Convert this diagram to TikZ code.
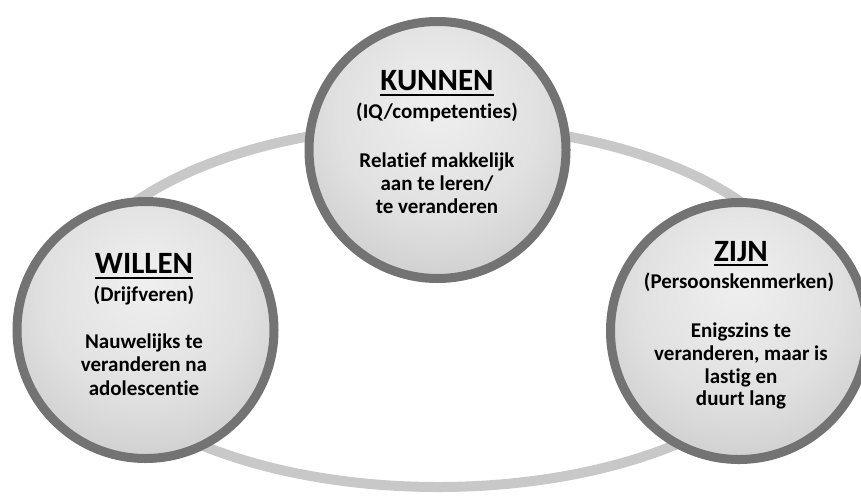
\documentclass[tikz,border=0pt]{standalone}
\usepackage{fontspec}
\setmainfont{Carlito}[Ligatures=NoCommon]
\definecolor{ringgray}{HTML}{C8C8C8}
\definecolor{bordergray}{HTML}{737373}
\pgfdeclareradialshading{ballshade}{\pgfpoint{0bp}{10bp}}{%
  color(0bp)=(black!6);
  color(20bp)=(black!12);
  color(40bp)=(black!24);
  color(55bp)=(black!33);
  color(65bp)=(black!38)}
\tikzset{
  bubble/.style={circle, draw=bordergray, line width=9pt, minimum size=257pt,
    inner sep=0pt, shading=ballshade},
  heading/.style={font=\fontsize{31}{36}\selectfont\bfseries, inner sep=0pt, anchor=base},
  subline/.style={font=\fontsize{21}{24}\selectfont\bfseries, inner sep=0pt, anchor=base},
  bodyline/.style={font=\fontsize{21}{24}\selectfont\bfseries, inner sep=0pt, anchor=base},
  uline/.style={line width=2.4pt, black},
}
\begin{document}
\begin{tikzpicture}[x=1pt,y=-1pt]
\useasboundingbox (0,0) rectangle (861,496);
\clip (0,0) rectangle (861,496);
% ring
\draw[ringgray, line width=10pt] (438,306) ellipse [x radius=370pt, y radius=181pt];
% circles
\node[bubble] (kunnen) at (437.5,150) {};
\node[bubble] (willen) at (145.5,330) {};
\node[bubble] (zijn) at (739,331) {};
% KUNNEN
\node[heading] (kt) at (437,90) {KUNNEN};
\draw[uline] ([yshift=-5pt]kt.base west) -- ([yshift=-5pt]kt.base east);
\node[subline] (ks) at (437,118) {(IQ/competenties)};
\node[bodyline] (kb1) at (437,167) {Relatief makkelijk};
\node[bodyline] (kb2) at (437,190.5) {aan te leren/};
\node[bodyline] (kb3) at (437,213.5) {te veranderen};
% WILLEN
\node[heading] (wt) at (144,273) {WILLEN};
\draw[uline] ([yshift=-5pt]wt.base west) -- ([yshift=-5pt]wt.base east);
\node[subline] (ws) at (144,301) {(Drijfveren)};
\node[bodyline] (wb1) at (144,348) {Nauwelijks te};
\node[bodyline] (wb2) at (144,371.5) {veranderen na};
\node[bodyline] (wb3) at (144,395) {adolescentie};
% ZIJN
\node[heading] (zt) at (741,261) {ZIJN};
\draw[uline] ([yshift=-4pt]zt.base west) -- ([yshift=-4pt]zt.base east);
\node[subline] (zs) at (739,288) {(Persoonskenmerken)};
\node[bodyline] (zb1) at (741,337) {Enigszins te};
\node[bodyline] (zb2) at (741,360) {veranderen, maar is};
\node[bodyline] (zb3) at (741,383) {lastig en};
\node[bodyline] (zb4) at (741,405.5) {duurt lang};
\end{tikzpicture}
\end{document}
